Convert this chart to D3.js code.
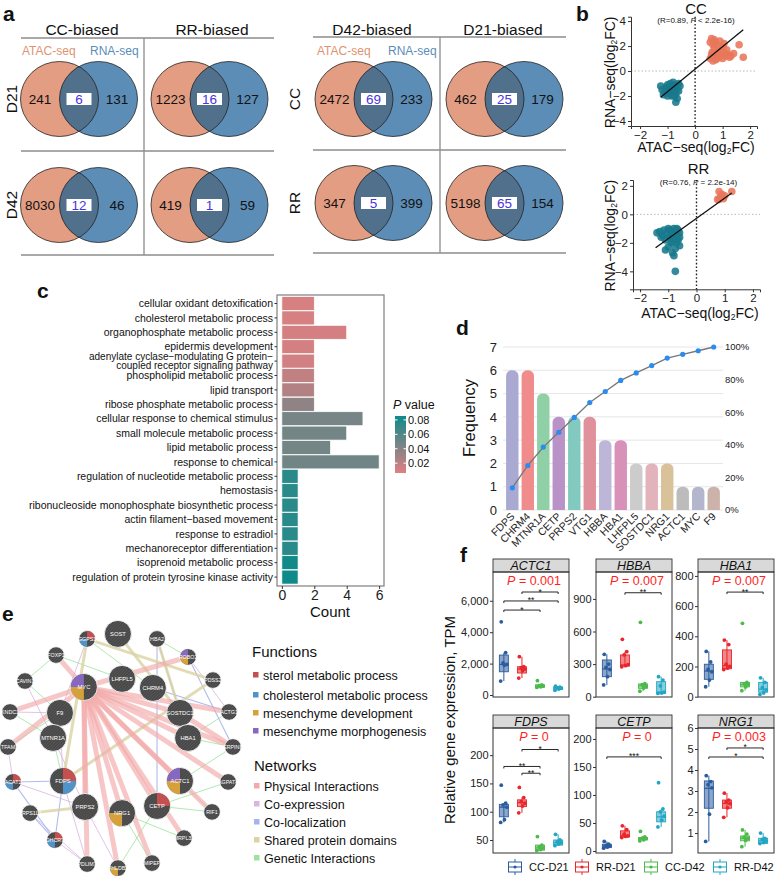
<!DOCTYPE html>
<html lang="en">
<head>
<meta charset="utf-8" />
<title>ATAC-seq / RNA-seq figure</title>
<style>
  body { margin: 0; background: #fff; }
  svg { display: block; }
  text { font-family: 'Liberation Sans', Arial, sans-serif; fill: #111; }
</style>
</head>
<body>
<script src="https://cdn.jsdelivr.net/npm/d3@7"></script>
<script>
// ---------- data ----------
// a: Venn counts [ATAC only, overlap, RNA only]
const vennColsA = ['CC-biased', 'RR-biased'];
const vennRowsA = ['D21', 'D42'];
const vennA = [[241, 6, 131], [1223, 16, 127], [8030, 12, 46], [419, 1, 59]];
const vennColsB = ['D42-biased', 'D21-biased'];
const vennRowsB = ['CC', 'RR'];
const vennB = [[2472, 69, 233], [462, 25, 179], [347, 5, 399], [5198, 65, 154]];

// b: log2FC points [ATAC, RNA]
const ccDown = [[-1.25,-1.2],[-1.2,-1.5],[-1.1,-1.7],[-1.05,-1.3],[-1.0,-1.1],[-0.95,-1.4],[-0.9,-1.0],[-0.9,-1.6],[-0.85,-1.2],[-0.8,-1.5],[-0.8,-0.9],[-0.75,-1.3],[-0.7,-1.1],[-0.7,-1.8],[-0.65,-1.4],[-0.65,-2.2],[-0.6,-1.0],[-0.6,-1.6],[-0.7,-2.5],[-0.55,-1.2],[-1.15,-1.9],[-0.95,-1.8],[-0.85,-2.0],[-0.75,-2.0],[-1.0,-2.0]];
const ccUp = [[0.55,1.0],[0.6,2.6],[0.62,1.5],[0.65,2.1],[0.7,1.2],[0.7,1.8],[0.75,2.3],[0.75,0.9],[0.8,1.5],[0.85,2.0],[0.85,1.1],[0.9,1.7],[0.9,2.4],[0.95,1.3],[1.0,1.9],[1.0,1.0],[1.05,1.5],[1.1,1.2],[1.15,1.7],[1.2,1.3],[1.3,1.2],[1.4,1.4],[1.6,2.1],[1.75,1.1],[0.6,1.3],[0.65,0.8],[0.55,2.3],[1.05,2.2],[0.7,2.5],[0.8,1.0],[1.25,1.1]];
const ccFit = [[-1.25, -2.1], [1.75, 3.3]];
const rrDown = [[-1.4,-1.3],[-1.3,-1.2],[-1.2,-1.5],[-1.15,-1.1],[-1.1,-1.8],[-1.05,-1.3],[-1.0,-1.0],[-1.0,-2.3],[-0.95,-1.6],[-0.9,-1.2],[-0.9,-2.0],[-0.85,-1.4],[-0.85,-2.7],[-0.8,-1.0],[-0.8,-1.7],[-0.8,-2.9],[-0.75,-1.2],[-0.75,-4.0],[-0.7,-1.5],[-0.7,-2.0],[-0.65,-1.1],[-0.65,-1.8],[-0.6,-1.3],[-0.6,-2.2],[-1.1,-2.5],[-0.95,-1.1],[-0.9,-1.5],[-0.7,-1.0],[-0.75,-2.4],[-1.25,-1.6],[-0.85,-1.9],[-0.6,-1.6]];
const rrUp = [[0.75,1.05],[0.8,1.6],[0.85,1.2],[0.9,1.4],[0.95,1.1],[1.0,1.3],[1.25,1.6],[0.8,1.05]];
const rrFit = [[-1.45, -2.35], [1.25, 1.5]];

// c: GO terms
const goTerms = ['cellular oxidant detoxification', 'cholesterol metabolic process', 'organophosphate metabolic process',
  'epidermis development', 'adenylate cyclase\u2212modulating G protein\u2212\ncoupled receptor signaling pathway',
  'phospholipid metabolic process', 'lipid transport', 'ribose phosphate metabolic process',
  'cellular response to chemical stimulus', 'small molecule metabolic process', 'lipid metabolic process',
  'response to chemical', 'regulation of nucleotide metabolic process', 'hemostasis',
  'ribonucleoside monophosphate biosynthetic process', 'actin filament\u2212based movement', 'response to estradiol',
  'mechanoreceptor differentiation', 'isoprenoid metabolic process', 'regulation of protein tyrosine kinase activity'];
const goCounts = [2, 2, 4, 2, 2, 2, 2, 2, 5, 4, 3, 6, 1, 1, 1, 1, 1, 1, 1, 1];
const goPvals = [0.010, 0.010, 0.011, 0.011, 0.012, 0.018, 0.024, 0.037, 0.046, 0.047, 0.047, 0.048, 0.075, 0.075, 0.075, 0.075, 0.075, 0.075, 0.084, 0.085];
const pTicks = [0.02, 0.04, 0.06, 0.08];

// d: Pareto of genes
const paretoGenes = ['FDPS', 'CHRM4', 'MTNR1A', 'CETP', 'PRPS2', 'VTG1', 'HBBA', 'HBA1', 'LHFPL5', 'SOSTDC1', 'NRG1', 'ACTC1', 'MYC', 'F9'];
const paretoFreq = [6, 6, 5, 4, 4, 4, 3, 3, 2, 2, 2, 1, 1, 1];
const paretoCum = [13.6, 27.3, 38.6, 47.7, 56.8, 65.9, 72.7, 79.5, 84.1, 88.6, 93.2, 95.5, 97.7, 100];
const paretoColors = ['#a9a9d2', '#f08c8c', '#8fd0a6', '#b993c8', '#82c9c0', '#e0929c', '#bdb6d8', '#d891b9', '#cccccc', '#e3b3bb', '#d9c29a', '#bcbcbc', '#b3b6cc', '#cbb3aa'];

// e: network (layout units 0-100)
const netNodes = ['SOST','HBA2','GGPS1','FOXP1','ROBO2','CAVIN1','MYC','LHFPL5','CHRM4','PDSS2','KNDC1','F9','SOSTDC1','ACTG1','TFAM','MTNR1A','HBA1','SERPINH1','ACAT2','FDPS','ACTC1','AGPAT4','PRPS1L1','PRPS2','NRG1','CETP','RIF1','DHCR7','MRPL33','PDLIM7','PHLDB2','MIPEP'];
const netX = [49.1, 66.1, 35.7, 22.2, 79.6, 8.7, 34.3, 50.9, 64.3, 90.4, 2.2, 23.9, 76.1, 97.4, 1.3, 20.9, 79.6, 99.1, 3.5, 25.2, 76.1, 97.0, 10.9, 34.8, 50.9, 66.1, 90.0, 21.7, 77.8, 35.7, 49.1, 63.9];
const netY = [0.8, 2.9, 2.9, 9.7, 10.5, 20.6, 23.1, 19.7, 23.5, 20.2, 33.6, 34.0, 34.0, 33.6, 48.3, 44.5, 44.5, 48.3, 63.0, 62.6, 62.6, 63.0, 76.1, 73.5, 76.1, 73.1, 75.6, 87.4, 86.6, 97.5, 99.2, 97.1];
const netQuery = ['SOST','MYC','LHFPL5','CHRM4','F9','SOSTDC1','MTNR1A','HBA1','FDPS','ACTC1','PRPS2','NRG1','CETP'];
// [node, quadrant 0=TR 1=BR 2=BL 3=TL, function index]
const netPies = [['MYC',3,3],['MYC',2,2],['FDPS',0,0],['FDPS',1,1],['ACTC1',3,3],['ACTC1',2,2],['CETP',0,0],['NRG1',2,2],
  ['GGPS1',0,0],['GGPS1',2,1],['ROBO2',3,3],['ROBO2',2,2],['ACAT2',0,0],['ACAT2',2,1],['DHCR7',0,0],['DHCR7',2,1],['PHLDB2',2,2]];
const edgesPhysical = [['MYC','FOXP1'],['MYC','ROBO2'],['MYC','KNDC1'],['MYC','TFAM'],['MYC','ACTG1'],['MYC','SERPINH1'],['MYC','AGPAT4'],
  ['MYC','RIF1'],['MYC','MRPL33'],['MYC','MIPEP'],['MYC','PHLDB2'],['MYC','PDLIM7'],['MYC','CETP'],['MYC','NRG1'],['MYC','PRPS2'],
  ['MYC','ACTC1'],['MYC','SOSTDC1'],['MYC','HBA1'],['SOSTDC1','SERPINH1']];
const edgesShared = [['SOST','SOSTDC1'],['GGPS1','PDSS2'],['FDPS','PDSS2'],['GGPS1','FDPS'],['PRPS2','PRPS1L1'],['HBA2','HBA1']];
const edgesColoc = [['ACAT2','FDPS'],['ACAT2','DHCR7'],['FDPS','DHCR7'],['DHCR7','PRPS1L1'],['HBA2','HBA1'],['HBA2','CETP'],['ROBO2','SERPINH1'],['CHRM4','ACTG1']];
const edgesCoexp = [['CAVIN1','MTNR1A'],['KNDC1','F9'],['F9','FDPS'],['TFAM','ACAT2'],['ACAT2','PRPS2'],['FDPS','PDLIM7'],['MTNR1A','PRPS2'],
  ['ROBO2','ACTG1'],['SOSTDC1','HBA1'],['PRPS1L1','PDLIM7'],['DHCR7','PDLIM7'],['PHLDB2','PRPS2'],['GGPS1','F9']];
const edgesGenetic = [['FOXP1','LHFPL5'],['GGPS1','CHRM4'],['ACTC1','SERPINH1'],['ACTC1','RIF1'],['CETP','RIF1'],['NRG1','MRPL33'],
  ['PHLDB2','CETP'],['ACTG1','HBA1'],['CAVIN1','F9'],['MTNR1A','FDPS'],['MIPEP','NRG1'],['TFAM','F9'],['AGPAT4','CETP'],
  ['KNDC1','MTNR1A'],['FOXP1','CAVIN1'],['SERPINH1','HBA1'],['HBA2','ROBO2']];
const funcNames = ['sterol metabolic process', 'cholesterol metabolic process', 'mesenchyme development', 'mesenchyme morphogenesis'];
const funcColors = ['#c4514f', '#4f93c9', '#d6a13a', '#8768bf'];
const netNames = ['Physical Interactions', 'Co-expression', 'Co-localization', 'Shared protein domains', 'Genetic Interactions'];
const netColors = ['#f2a9a9', '#d8b6df', '#a6b4ec', '#dad3a3', '#9fe29f'];

// f: expression boxplots, stats [lo, q1, median, q3, hi]
const fGroups = ['CC-D21', 'RR-D21', 'CC-D42', 'RR-D42'];
const fColors = ['#2b5c9e', '#e8262b', '#4dba4b', '#22a5c2'];
const fGenes = ['ACTC1', 'HBBA', 'HBA1', 'FDPS', 'CETP', 'NRG1'];
const fPvals = ['0.001', '0.007', '0.007', '0', '0', '0.003'];
const fDomains = [[-127, 7834], [-3, 1148], [-2, 826], [27, 248], [-3.6, 219.6], [0.05, 6.0]];
const fTicks = [[0, 2000, 4000, 6000], [0, 300, 600, 900], [0, 200, 400, 600, 800], [50, 100, 150, 200], [0, 50, 100, 150, 200], [1, 2, 3, 4, 5, 6]];
const fBoxes = [
  [[890, 1480, 1950, 2545, 2690], [1080, 1400, 1650, 1800, 2440], [480, 500, 580, 650, 650], [300, 370, 440, 500, 560]],
  [[108, 184, 255, 338, 390], [275, 282, 292, 384, 414], [50, 77, 100, 117, 120], [30, 31, 42, 138, 184]],
  [[66, 115, 170, 215, 300], [180, 185, 205, 310, 375], [40, 65, 80, 95, 95], [15, 30, 50, 95, 125]],
  [[81, 91, 108, 113, 115], [98, 109, 116, 121, 125], [31, 32, 36, 41, 41], [40, 41, 45, 50, 60]],
  [[5, 6, 9, 12, 17], [24, 25, 27, 36, 45], [18, 20, 22, 24, 27], [43, 52, 61, 70, 75]],
  [[0.6, 2.18, 3.13, 3.48, 3.73], [1.75, 2.18, 2.41, 2.57, 2.9], [0.35, 0.63, 0.75, 0.86, 1.15], [0.5, 0.51, 0.63, 0.75, 1.0]]
];
const fPoints = [
  [[4660, 2690, 2040, 1950, 1900, 890], [2440, 1800, 1750, 1650, 1550, 1080], [910, 650, 600, 560, 520, 480], [560, 500, 460, 430, 380, 300]],
  [[390, 300, 270, 250, 184, 108], [528, 414, 384, 295, 285, 275], [685, 120, 110, 95, 80, 50], [184, 153, 100, 42, 33, 30]],
  [[300, 230, 180, 165, 110, 66], [375, 345, 215, 200, 190, 180], [486, 95, 85, 80, 65, 40], [125, 95, 60, 45, 25, 15]],
  [[147, 115, 112, 108, 86, 81], [143, 125, 118, 115, 110, 98], [56, 41, 38, 36, 33, 31], [60, 50, 47, 45, 43, 40]],
  [[17, 12, 10, 9, 7, 5], [45, 38, 30, 27, 26, 24], [35, 25, 23, 22, 20, 18], [122, 75, 70, 62, 55, 43]],
  [[3.73, 3.45, 3.3, 3.15, 1.9, 0.6], [2.9, 2.57, 2.5, 2.4, 2.2, 1.75], [1.15, 0.95, 0.8, 0.75, 0.65, 0.35], [1.0, 0.75, 0.7, 0.62, 0.55, 0.5]]
];
// [group a, group b, stars, y]
const fSig = [
  [[1, 3, '*', 6560], [0, 3, '**', 5990], [0, 2, '*', 5410]],
  [[1, 3, '**', 957]],
  [[1, 3, '**', 693]],
  [[1, 3, '*', 210], [0, 2, '**', 180], [1, 2, '**', 168]],
  [[0, 3, '***', 168]],
  [[1, 3, '*', 5.05], [0, 3, '*', 4.62]]
];

// ---------- drawing ----------
const svg = d3.select('body').append('svg').attr('width', 778).attr('height', 876);
const defs = svg.append('defs');

function panelLabel(t, x, y) {
  svg.append('text').attr('x', x).attr('y', y).text(t)
    .style('font-size', '21px').style('font-weight', 'bold');
}
panelLabel('a', 3, 21);
panelLabel('b', 576, 21);
panelLabel('c', 37, 298);
panelLabel('d', 456, 335);
panelLabel('e', 2, 621);
panelLabel('f', 460, 562);

// ----- a -----
const ORANGE = '#e39d82', BLUE = '#5c8db7', OVERLAP = '#51708c';
let vennId = 0;
function drawVenn(cx, cy, vals) {
  const g = svg.append('g');
  const dx = 19.5, rx = 39, ry = 37.5;
  const id = 'vclip' + (vennId++);
  defs.append('clipPath').attr('id', id).append('ellipse')
    .attr('cx', cx - dx).attr('cy', cy).attr('rx', rx).attr('ry', ry);
  g.append('ellipse').attr('cx', cx - dx).attr('cy', cy).attr('rx', rx).attr('ry', ry).attr('fill', ORANGE);
  g.append('ellipse').attr('cx', cx + dx).attr('cy', cy).attr('rx', rx).attr('ry', ry).attr('fill', BLUE);
  g.append('ellipse').attr('cx', cx + dx).attr('cy', cy).attr('rx', rx).attr('ry', ry).attr('fill', OVERLAP)
    .attr('clip-path', `url(#${id})`);
  [-dx, dx].forEach((o) => {
    g.append('ellipse').attr('cx', cx + o).attr('cy', cy).attr('rx', rx).attr('ry', ry)
      .attr('fill', 'none').attr('stroke', '#222').attr('stroke-width', 0.8);
  });
  g.append('text').attr('x', cx - 39).attr('y', cy).attr('dy', '0.36em').attr('text-anchor', 'middle')
    .style('font-size', '13.5px').text(vals[0]);
  g.append('text').attr('x', cx + 38).attr('y', cy).attr('dy', '0.36em').attr('text-anchor', 'middle')
    .style('font-size', '13.5px').text(vals[2]);
  g.append('rect').attr('x', cx - 12.5).attr('y', cy - 6).attr('width', 25).attr('height', 12).attr('fill', '#fff');
  g.append('text').attr('x', cx).attr('y', cy).attr('dy', '0.36em').attr('text-anchor', 'middle')
    .style('font-size', '13.5px').style('fill', '#4a33e0').text(vals[1]);
}

function vennGrid(cols, rows, vals, o) {
  const g = svg.append('g');
  cols.forEach((c, i) => {
    g.append('text').attr('x', o.colCenters[i]).attr('y', 35).attr('text-anchor', 'middle')
      .style('font-size', '15.5px').text(c);
  });
  const line = (x1, y1, x2, y2) => g.append('line').attr('x1', x1).attr('y1', y1).attr('x2', x2).attr('y2', y2)
    .attr('stroke', '#8c8c8c').attr('stroke-width', 1.3);
  line(o.left, o.top, o.right, o.top);
  line(o.mid, o.top, o.mid, o.bottom);
  line(o.left, o.rowMid, o.right, o.rowMid);
  line(o.left, o.bottom, o.right, o.bottom);
  rows.forEach((r, j) => {
    g.append('text').attr('transform', `translate(${o.rowLabelX},${o.rowCenters[j]}) rotate(-90)`)
      .attr('text-anchor', 'middle').style('font-size', '15.5px').text(r);
  });
  g.append('text').attr('x', o.atacX).attr('y', 55).style('font-size', '12px').style('fill', '#e0936f').text('ATAC-seq');
  g.append('text').attr('x', o.rnaX).attr('y', 55).style('font-size', '12px').style('fill', '#5b8db8').text('RNA-seq');
  vals.forEach((v, k) => {
    const j = Math.floor(k / 2), i = k % 2;
    drawVenn(o.vennX[i], o.rowCenters[j], v);
  });
}
vennGrid(vennColsA, vennRowsA, vennA, {
  colCenters: [82, 212], left: 21, right: 274, top: 38, mid: 144, rowMid: 151, bottom: 255,
  rowLabelX: 17, rowCenters: [99, 205], atacX: 22, rnaX: 90, vennX: [79, 209.5]
});
vennGrid(vennColsB, vennRowsB, vennB, {
  colCenters: [372, 503], left: 313, right: 566, top: 37, mid: 440, rowMid: 150, bottom: 253,
  rowLabelX: 300, rowCenters: [99, 203], atacX: 317, rnaX: 388, vennX: [373.5, 504.5]
});

// ----- b -----
function sub2(sel, pre, post) {
  sel.append('tspan').text(pre);
  sel.append('tspan').text('2').style('font-size', '8.5px').attr('dy', 2);
  sel.append('tspan').text(post).attr('dy', -2);
}
function scatterPanel(o) {
  const x = d3.scaleLinear().domain(o.xd).range([o.left, o.right]);
  const y = d3.scaleLinear().domain(o.yd).range([o.bottom, o.top]);
  const g = svg.append('g');
  g.append('line').attr('x1', o.left).attr('x2', o.right).attr('y1', y(0)).attr('y2', y(0))
    .attr('stroke', '#b8b8b8').attr('stroke-dasharray', '1.5,2').attr('stroke-width', 1);
  g.append('line').attr('x1', x(0)).attr('x2', x(0)).attr('y1', o.top).attr('y2', o.bottom)
    .attr('stroke', '#222').attr('stroke-dasharray', '1.6,2').attr('stroke-width', 1.4);
  g.selectAll(null).data(o.down).join('circle').attr('cx', (d) => x(d[0])).attr('cy', (d) => y(d[1]))
    .attr('r', 3.8).attr('fill', '#18798c').attr('fill-opacity', 0.88);
  g.selectAll(null).data(o.up).join('circle').attr('cx', (d) => x(d[0])).attr('cy', (d) => y(d[1]))
    .attr('r', 3.8).attr('fill', '#e8765a').attr('fill-opacity', 0.88);
  g.append('path').attr('d', d3.line().x((d) => x(d[0])).y((d) => y(d[1]))(o.fit))
    .attr('stroke', '#111').attr('stroke-width', 1.3).attr('fill', 'none');
  const ax = g.append('g').attr('transform', `translate(0,${o.bottom})`)
    .call(d3.axisBottom(x).tickValues([-2, -1, 0, 1, 2]).tickFormat(d3.format('d')).tickSize(3).tickPadding(1.5));
  const ay = g.append('g').attr('transform', `translate(${o.left},0)`)
    .call(d3.axisLeft(y).tickValues(o.yt).tickFormat(d3.format('d')).tickSize(3).tickPadding(2));
  [ax, ay].forEach((a) => {
    a.selectAll('text').style('font-size', '11.5px').style('fill', '#222');
    a.selectAll('line,path').attr('stroke', '#333');
  });
  g.append('text').attr('x', (o.left + o.right) / 2 + 2).attr('y', o.titleY).attr('text-anchor', 'middle')
    .style('font-size', '15px').text(o.title);
  const st = g.append('text').attr('x', (o.left + o.right) / 2 + 2).attr('y', o.subY).attr('text-anchor', 'middle')
    .style('font-size', '8px');
  st.append('tspan').text(o.r + ', ');
  st.append('tspan').text('P').style('font-style', 'italic');
  st.append('tspan').text(o.p + ')');
  sub2(g.append('text').attr('x', o.xLabelX).attr('y', o.xLabelY).attr('text-anchor', 'middle')
    .style('font-size', '14px'), 'ATAC\u2212seq(log', 'FC)');
  sub2(g.append('text').attr('transform', `translate(615,${(o.top + o.bottom) / 2 + 1}) rotate(-90)`)
    .attr('text-anchor', 'middle').style('font-size', '14px'), 'RNA\u2212seq(log', 'FC)');
}
scatterPanel({
  left: 631, right: 757, top: 16.7, bottom: 126, xd: [-2.33, 2.25], yd: [-4.4, 4.35], yt: [-4, -2, 0, 2, 4],
  down: ccDown, up: ccUp, fit: ccFit, title: 'CC', titleY: 13.5, subY: 23, r: '(R=0.89', p: ' < 2.2e-16',
  xLabelX: 696, xLabelY: 152
});
scatterPanel({
  left: 633, right: 760, top: 180, bottom: 289.3, xd: [-2.25, 2.25], yd: [-5.26, 2.41], yt: [-4, -2, 0, 2],
  down: rrDown, up: rrUp, fit: rrFit, title: 'RR', titleY: 174, subY: 184.5, r: '(R=0.76', p: ' = 2.2e-14',
  xLabelX: 700, xLabelY: 318
});

// ----- c -----
{
  const g = svg.append('g');
  const y = d3.scaleBand().domain(d3.range(goTerms.length)).range([296.1, 584.5]).padding(0.03);
  const x = d3.scaleLinear().domain([-0.3, 6.3]).range([277, 384]);
  const pDom = [0.0064, 0.0854];
  const col = d3.scaleLinear().domain(pDom).range(['#e07f82', '#0e8a8a']).interpolate(d3.interpolateRgb);
  g.selectAll(null).data(goCounts).join('rect')
    .attr('x', x(0)).attr('y', (d, i) => y(i)).attr('width', (d) => x(d) - x(0)).attr('height', y.bandwidth())
    .attr('fill', (d, i) => col(goPvals[i])).attr('stroke', '#fff').attr('stroke-width', 0.7);
  g.append('rect').attr('x', 277).attr('y', 295).attr('width', 107).attr('height', 291)
    .attr('fill', 'none').attr('stroke', '#7f7f7f').attr('stroke-width', 1.2);
  goTerms.forEach((t, i) => {
    const cy = y(i) + y.bandwidth() / 2;
    g.append('line').attr('x1', 274.5).attr('x2', 277).attr('y1', cy).attr('y2', cy).attr('stroke', '#333');
    const lines = t.split('\n');
    const two = lines.length > 1;
    lines.forEach((l, k) => {
      g.append('text').attr('x', 273).attr('y', cy + (k - (lines.length - 1) / 2) * 9.4).attr('dy', '0.35em')
        .attr('text-anchor', 'end').style('font-size', two ? '10px' : '10.5px').text(l);
    });
  });
  const ax = g.append('g').attr('transform', 'translate(0,586)')
    .call(d3.axisBottom(x).tickValues([0, 2, 4, 6]).tickFormat(d3.format('d')).tickSize(3).tickPadding(1));
  ax.select('.domain').remove();
  ax.selectAll('text').style('font-size', '14px').style('fill', '#222');
  ax.selectAll('line').attr('stroke', '#333');
  g.append('text').attr('x', 330).attr('y', 617).attr('text-anchor', 'middle').style('font-size', '15px').text('Count');

  // colour bar
  const grad = defs.append('linearGradient').attr('id', 'pgrad').attr('x1', 0).attr('x2', 0).attr('y1', 1).attr('y2', 0);
  d3.range(0, 1.0001, 0.1).forEach((t) => {
    grad.append('stop').attr('offset', t).attr('stop-color', col(pDom[0] + t * (pDom[1] - pDom[0])));
  });
  const cy = d3.scaleLinear().domain(pDom).range([473, 416]);
  g.append('rect').attr('x', 395).attr('y', 416).attr('width', 11).attr('height', 57).attr('fill', 'url(#pgrad)');
  pTicks.forEach((p) => {
    g.append('line').attr('x1', 395).attr('x2', 397.5).attr('y1', cy(p)).attr('y2', cy(p)).attr('stroke', '#fff');
    g.append('line').attr('x1', 403.5).attr('x2', 406).attr('y1', cy(p)).attr('y2', cy(p)).attr('stroke', '#fff');
    g.append('text').attr('x', 408).attr('y', cy(p)).attr('dy', '0.35em').style('font-size', '11px').text(p.toFixed(2));
  });
  const pt = g.append('text').attr('x', 393).attr('y', 409).style('font-size', '12.5px');
  pt.append('tspan').text('P').style('font-style', 'italic');
  pt.append('tspan').text(' value');
}

// ----- d -----
{
  const g = svg.append('g');
  const x = d3.scaleBand().domain(paretoGenes).range([503, 723]).padding(0.2);
  const y = d3.scaleLinear().domain([0, 7]).range([510, 347]);
  const yp = d3.scaleLinear().domain([0, 100]).range([510, 347]);
  d3.range(0, 8).forEach((v) => {
    g.append('line').attr('x1', 503).attr('x2', 723).attr('y1', y(v)).attr('y2', y(v))
      .attr('stroke', '#e3e3e3').attr('stroke-width', 0.9);
    g.append('text').attr('x', 497).attr('y', y(v)).attr('dy', '0.36em').attr('text-anchor', 'end')
      .style('font-size', '13px').style('fill', '#222').text(v);
  });
  [0, 20, 40, 60, 80, 100].forEach((v) => {
    g.append('text').attr('x', 725).attr('y', yp(v)).attr('dy', '0.36em').style('font-size', '9.5px')
      .style('fill', '#222').text(v + '%');
  });
  const bw = x.bandwidth(), r = 5.5;
  paretoFreq.forEach((f, i) => {
    const x0 = x(paretoGenes[i]), y0 = y(0), yt = y(f);
    const p = d3.path();
    p.moveTo(x0, y0);
    p.lineTo(x0, yt + r);
    p.arcTo(x0, yt, x0 + r, yt, r);
    p.lineTo(x0 + bw - r, yt);
    p.arcTo(x0 + bw, yt, x0 + bw, yt + r, r);
    p.lineTo(x0 + bw, y0);
    p.closePath();
    g.append('path').attr('d', p.toString()).attr('fill', paretoColors[i]);
    g.append('text').attr('transform', `translate(${x0 + bw / 2 + 3},517) rotate(-45)`)
      .attr('text-anchor', 'end').style('font-size', '10.5px').style('fill', '#222').text(paretoGenes[i]);
  });
  const cx = (d, i) => x(paretoGenes[i]) + bw / 2;
  g.append('path').attr('d', d3.line().x(cx).y((d) => yp(d))(paretoCum))
    .attr('fill', 'none').attr('stroke', '#777').attr('stroke-width', 1.3);
  g.selectAll(null).data(paretoCum).join('circle').attr('cx', cx).attr('cy', (d) => yp(d))
    .attr('r', 2.6).attr('fill', '#2b8cf0');
  g.append('text').attr('transform', 'translate(475,418) rotate(-90)').attr('text-anchor', 'middle')
    .style('font-size', '16.5px').text('Frequency');
}

// ----- e -----
{
  const g = svg.append('g');
  const ex = d3.scaleLinear().domain([0, 100]).range([5, 235]);
  const ey = d3.scaleLinear().domain([0, 100]).range([632, 870]);
  const pos = {};
  netNodes.forEach((n, i) => { pos[n] = [ex(netX[i]), ey(netY[i])]; });
  const drawEdges = (list, color, w, op) => {
    list.forEach(([a, b]) => {
      g.append('line').attr('x1', pos[a][0]).attr('y1', pos[a][1]).attr('x2', pos[b][0]).attr('y2', pos[b][1])
        .attr('stroke', color).attr('stroke-width', w).attr('stroke-opacity', op);
    });
  };
  drawEdges(edgesGenetic, netColors[4], 0.9, 0.9);
  drawEdges(edgesCoexp, netColors[1], 0.9, 0.9);
  drawEdges(edgesColoc, netColors[2], 1.1, 0.9);
  drawEdges(edgesShared, netColors[3], 3, 0.8);
  drawEdges(edgesPhysical, netColors[0], 5, 0.65);

  const pat = defs.append('pattern').attr('id', 'hatch').attr('width', 2.2).attr('height', 2.2)
    .attr('patternUnits', 'userSpaceOnUse').attr('patternTransform', 'rotate(45)');
  pat.append('rect').attr('width', 2.2).attr('height', 2.2).attr('fill', '#474747');
  pat.append('rect').attr('width', 0.8).attr('height', 2.2).attr('fill', '#575757');
  const quadArc = d3.arc().innerRadius(0);
  netNodes.forEach((n) => {
    const big = netQuery.includes(n);
    const rr = big ? 13.5 : 8.3;
    const [nx, ny] = pos[n];
    g.append('circle').attr('cx', nx).attr('cy', ny).attr('r', rr).attr('fill', 'url(#hatch)')
      .attr('stroke', '#fff').attr('stroke-width', 0.8);
    netPies.filter((p) => p[0] === n).forEach(([, q, f]) => {
      g.append('path').attr('transform', `translate(${nx},${ny})`)
        .attr('d', quadArc({ outerRadius: rr - 0.4, startAngle: q * Math.PI / 2, endAngle: (q + 1) * Math.PI / 2 }))
        .attr('fill', funcColors[f]);
    });
    g.append('text').attr('x', nx).attr('y', ny).attr('dy', '0.35em').attr('text-anchor', 'middle')
      .style('font-size', big ? '5.8px' : '5.3px').style('fill', '#fff').text(n);
  });

  g.append('text').attr('x', 252).attr('y', 657).style('font-size', '15px').text('Functions');
  funcNames.forEach((t, i) => {
    const yy = [675, 695, 713, 731][i];
    g.append('rect').attr('x', 253).attr('y', yy - 3).attr('width', 5.5).attr('height', 5.5).attr('fill', funcColors[i]);
    g.append('text').attr('x', 263).attr('y', yy).attr('dy', '0.36em').style('font-size', '12.5px').text(t);
  });
  g.append('text').attr('x', 254).attr('y', 771).style('font-size', '15px').text('Networks');
  netNames.forEach((t, i) => {
    const yy = 786 + i * 18;
    g.append('rect').attr('x', 254).attr('y', yy - 3).attr('width', 5.5).attr('height', 5.5).attr('fill', netColors[i]);
    g.append('text').attr('x', 264).attr('y', yy).attr('dy', '0.36em').style('font-size', '12.5px').text(t);
  });
}

// ----- f -----
{
  const g = svg.append('g');
  const colX = [493, 596, 698], W = 76, H = 125, rowY = [572, 728], SH = 13;
  const jitter = [-2.6, 1.8, -0.8, 3.0, 0.6, -3.2];
  fGenes.forEach((gene, i) => {
    const x0 = colX[i % 3], y0 = rowY[Math.floor(i / 3)];
    const x = d3.scalePoint().domain(fGroups).range([x0, x0 + W]).padding(0.6);
    const y = d3.scaleLinear().domain(fDomains[i]).range([y0 + H, y0]);
    g.append('rect').attr('x', x0).attr('y', y0 - SH).attr('width', W).attr('height', SH)
      .attr('fill', '#d9d9d9').attr('stroke', '#333').attr('stroke-width', 0.9);
    g.append('text').attr('x', x0 + W / 2).attr('y', y0 - SH / 2).attr('dy', '0.36em').attr('text-anchor', 'middle')
      .style('font-size', '12.5px').style('font-style', 'italic').text(gene);
    g.append('rect').attr('x', x0).attr('y', y0).attr('width', W).attr('height', H)
      .attr('fill', 'none').attr('stroke', '#333').attr('stroke-width', 1);
    const ay = g.append('g').attr('transform', `translate(${x0},0)`)
      .call(d3.axisLeft(y).tickValues(fTicks[i]).tickSize(3).tickPadding(1.5).tickFormat(d3.format(',')));
    ay.select('.domain').remove();
    ay.selectAll('text').style('font-size', '11px').style('fill', '#222');
    ay.selectAll('line').attr('stroke', '#333');

    const bw = 9;
    fBoxes[i].forEach(([lo, q1, med, q3, hi], k) => {
      const cx = x(fGroups[k]), c = fColors[k];
      g.append('line').attr('x1', cx).attr('x2', cx).attr('y1', y(lo)).attr('y2', y(hi))
        .attr('stroke', c).attr('stroke-width', 1);
      g.append('rect').attr('x', cx - bw / 2).attr('y', y(q3)).attr('width', bw).attr('height', Math.max(y(q1) - y(q3), 0.5))
        .attr('fill', c).attr('fill-opacity', 0.55).attr('stroke', c).attr('stroke-width', 0.9);
      g.append('line').attr('x1', cx - bw / 2).attr('x2', cx + bw / 2).attr('y1', y(med)).attr('y2', y(med))
        .attr('stroke', c).attr('stroke-width', 1.2);
      fPoints[i][k].forEach((v, j) => {
        g.append('circle').attr('cx', cx + jitter[j]).attr('cy', y(v)).attr('r', 1.9).attr('fill', c);
      });
    });

    const pt = g.append('text').attr('x', x0 + W / 2 + 3).attr('y', y0 + 12.5).attr('text-anchor', 'middle')
      .style('font-size', '12.5px').style('fill', '#ff1f1f');
    pt.append('tspan').text('P').style('font-style', 'italic').style('fill', '#ff1f1f');
    pt.append('tspan').text(' = ' + fPvals[i]).style('fill', '#ff1f1f');

    fSig[i].forEach(([a, b, s, v]) => {
      const xa = x(fGroups[a]), xb = x(fGroups[b]), yb = y(v);
      g.append('path').attr('d', `M${xa},${yb + 2}V${yb}H${xb}V${yb + 2}`)
        .attr('fill', 'none').attr('stroke', '#111').attr('stroke-width', 0.9);
      g.append('text').attr('x', (xa + xb) / 2).attr('y', yb + 2.5).attr('text-anchor', 'middle')
        .style('font-size', '8.5px').text(s);
    });
  });

  g.append('text').attr('transform', 'translate(455,720) rotate(-90)').attr('text-anchor', 'middle')
    .style('font-size', '15px').text('Relative gene expression, TPM');

  const lx = [515, 582, 651, 720];
  fGroups.forEach((t, k) => {
    const c = fColors[k], cx = lx[k], cy = 867;
    g.append('line').attr('x1', cx).attr('x2', cx).attr('y1', cy - 8).attr('y2', cy + 8).attr('stroke', c);
    g.append('rect').attr('x', cx - 6.5).attr('y', cy - 5).attr('width', 13).attr('height', 10)
      .attr('fill', '#fff').attr('stroke', c).attr('stroke-width', 1);
    g.append('line').attr('x1', cx - 6.5).attr('x2', cx + 6.5).attr('y1', cy).attr('y2', cy).attr('stroke', c);
    g.append('circle').attr('cx', cx).attr('cy', cy).attr('r', 1.6).attr('fill', c);
    g.append('text').attr('x', cx + 14).attr('y', cy).attr('dy', '0.36em').style('font-size', '11px').text(t);
  });
}
</script>
</body>
</html>
